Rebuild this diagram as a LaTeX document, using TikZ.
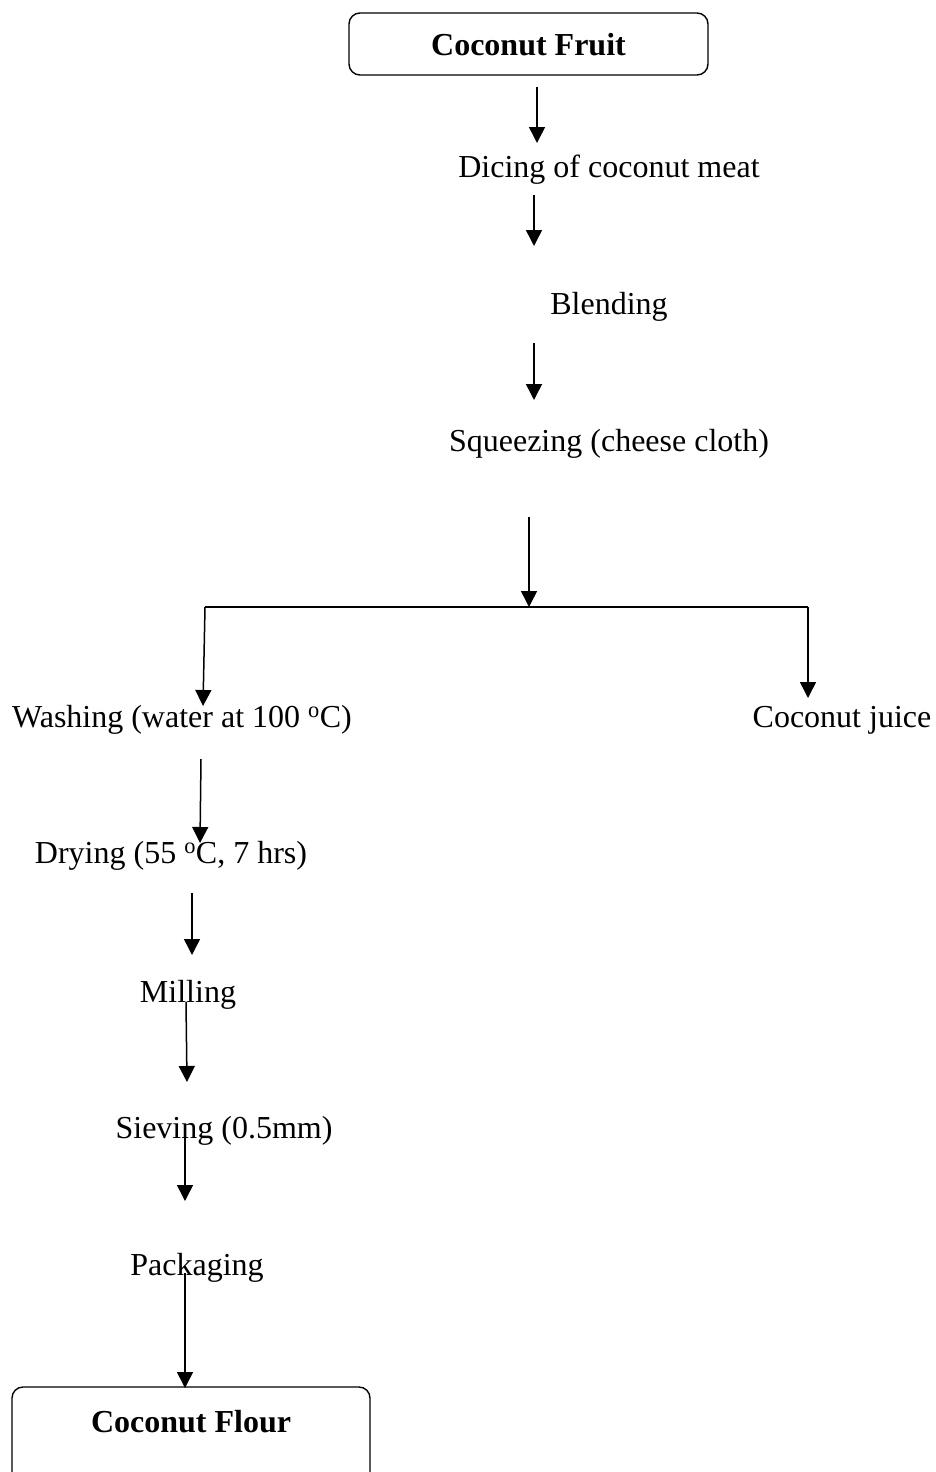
\documentclass[tikz,border=0pt]{standalone}
\usepackage{fontspec}
\setmainfont{Liberation Serif}
\usetikzlibrary{arrows.meta}

\begin{document}
\begin{tikzpicture}[x=1pt, y=-1pt,
  stage/.style={anchor=base, inner sep=0pt, font=\fontsize{32}{38}\selectfont},
  endbox/.style={stage, draw, line width=1.4pt, rounded corners=11pt,
    font=\fontsize{32}{38}\selectfont\bfseries},
  flow/.style={line width=1.5pt, -{Triangle[length=16pt,width=16pt]}}]

  \useasboundingbox (0,0) rectangle (935,1472);

  \node[endbox, minimum width=359pt, text height=43pt, text depth=19pt]
    (fruit) at (528.5,56) {Coconut Fruit};
  \node[stage] (dicing) at (609,177) {Dicing of coconut meat};
  \node[stage] (blending) at (609,314) {Blending};
  \node[stage] (squeezing) at (609,451) {Squeezing (cheese cloth)};
  \node[stage] (washing) at (182,727) {Washing (water at 100 \textsuperscript{o}C)};
  \node[stage] (juice) at (842,727) {Coconut juice};
  \node[stage] (drying) at (171,863) {Drying (55 \textsuperscript{o}C, 7 hrs)};
  \node[stage] (milling) at (188,1002) {Milling};
  \node[stage] (sieving) at (224,1138) {Sieving (0.5mm)};
  \node[stage] (packaging) at (197,1275) {Packaging};
  \node[endbox, minimum width=358pt, text height=45pt, text depth=70pt]
    (flour) at (191,1432) {Coconut Flour};

  % arrows between the stages
  \foreach \n/\xa/\ya/\xb/\yb in {1/537/87/537/143, 2/534/195/534/246,
    3/534/343/534/400, 5/201/759/200/843, 6/192/893/192/955,
    7/186/1002/187/1082, 8/185/1132/185/1201, 9/185/1273/185/1388}{
    \coordinate (s\n) at (\xa,\ya);
    \coordinate (e\n) at (\xb,\yb);
    \draw[flow] (s\n) -- (e\n);
  }

  % split after squeezing
  \coordinate (s4) at (529,517);
  \coordinate (split) at (529,607);
  \coordinate (splitL) at (205,607);
  \coordinate (splitR) at (808,607);
  \coordinate (toWash) at (203,706);
  \coordinate (toJuice) at (808,698);
  \draw[flow] (s4) -- (split);
  \draw[line width=1.5pt] (splitL) -- (splitR);
  \draw[flow] (splitL) -- (toWash);
  \draw[flow] (splitR) -- (toJuice);

\end{tikzpicture}
\end{document}
